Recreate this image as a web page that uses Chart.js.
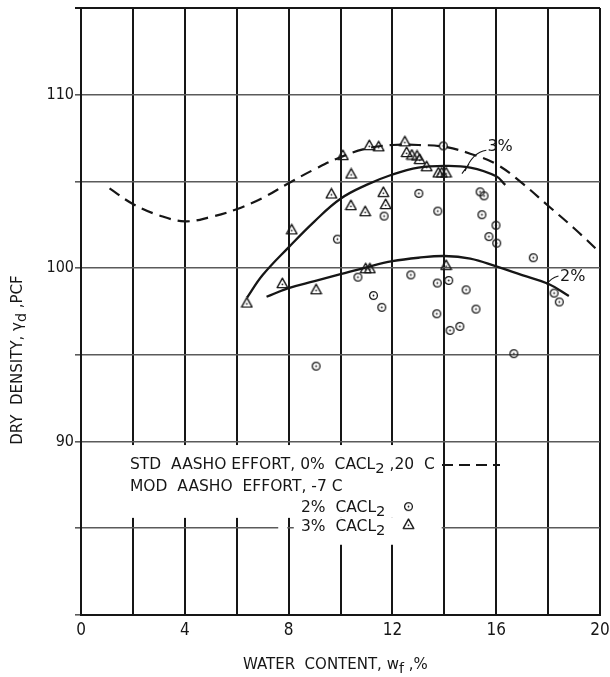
<!DOCTYPE html>
<html>
<head>
<meta charset="utf-8">
<script src="https://cdn.jsdelivr.net/npm/chart.js@4.4.0/dist/chart.umd.min.js"></script>
<style>
  html, body { margin: 0; padding: 0; background: #fff; }
  #wrap { width: 610px; height: 677px; }
</style>
</head>
<body>
<div id="wrap"><canvas id="densityChart" width="610" height="677"></canvas></div>
<script>
// Standard AASHO effort, 0% CaCl2, 20 C (dashed curve)
const stdWater = [1.1, 2, 3, 4, 5, 6, 7, 8, 9, 10, 11, 12, 13, 14, 15, 16, 17, 18, 19, 20];
const stdDensity = [104.6, 103.7, 103.05, 102.7, 102.95, 103.4, 104.05, 104.9, 105.7, 106.4, 106.9, 107.1, 107.1, 107.0, 106.6, 106.0, 104.9, 103.6, 102.3, 100.9];

// Modified AASHO effort, -7 C, 3% CaCl2 curve
const mod3Water = [6.4, 7, 8, 9, 10, 11, 12, 13, 14, 15, 16, 16.35];
const mod3Density = [98.3, 99.6, 101.2, 102.7, 104.0, 104.8, 105.4, 105.8, 105.9, 105.8, 105.3, 104.8];

// Modified AASHO effort, -7 C, 2% CaCl2 curve
const mod2Water = [7.15, 8, 9, 10, 11, 12, 13, 14, 15, 16, 17, 18, 18.8];
const mod2Density = [98.35, 98.85, 99.25, 99.65, 100.05, 100.4, 100.6, 100.7, 100.55, 100.1, 99.6, 99.1, 98.4];

// test points, 2% CaCl2
const pts2Water = [9.88, 11.68, 13.02, 13.75, 15.38, 15.53, 15.45, 15.99, 15.72, 16.02, 17.43, 13.96,
  10.67, 11.27, 11.59, 9.06, 12.71, 13.73, 14.17, 14.84, 13.71, 15.22, 14.22, 14.6, 16.68, 18.23, 18.43];
const pts2Density = [101.67, 103.0, 104.31, 103.29, 104.4, 104.17, 103.08, 102.47, 101.82, 101.44, 100.6, 107.05,
  99.48, 98.42, 97.74, 94.35, 99.61, 99.14, 99.29, 98.75, 97.37, 97.64, 96.41, 96.64, 95.07, 98.56, 98.05];

// test points, 3% CaCl2
const pts3Water = [6.39, 7.76, 9.06, 8.12, 9.65, 10.09, 10.41, 10.4, 10.95, 11.11, 11.47, 11.65, 11.74,
  12.48, 12.55, 12.75, 12.95, 13.05, 13.32, 13.77, 13.9, 14.07, 10.97, 11.13, 14.07];
const pts3Density = [98.02, 99.14, 98.79, 102.24, 104.31, 106.53, 105.46, 103.64, 103.29, 107.1, 107.03, 104.4, 103.7,
  107.32, 106.7, 106.55, 106.5, 106.3, 105.88, 105.52, 105.52, 105.52, 100.0, 100.0, 100.19];

const xTickLabels = ['0', '4', '8', '12', '16', '20'];
const yTickLabels = ['90', '100', '110'];

const FONT = "'DejaVu Sans', sans-serif";
const TICK_FONT = "'DejaVu Sans Condensed', 'DejaVu Sans', sans-serif";
const INK = '#161616';

function toPoints(xs, ys) {
  return xs.map((x, i) => ({ x: x, y: ys[i] }));
}

// small marker images: circle with centre dot, triangle with centre dot
function makeCircle() {
  const c = document.createElement('canvas');
  c.width = 11; c.height = 11;
  const g = c.getContext('2d');
  g.strokeStyle = INK; g.fillStyle = INK; g.lineWidth = 1.3;
  g.beginPath(); g.arc(5.5, 5.5, 3.9, 0, Math.PI * 2); g.stroke();
  g.beginPath(); g.arc(5.5, 5.5, 0.9, 0, Math.PI * 2); g.fill();
  return c;
}
function makeTriangle() {
  const c = document.createElement('canvas');
  c.width = 13; c.height = 12;
  const g = c.getContext('2d');
  g.strokeStyle = INK; g.fillStyle = INK; g.lineWidth = 1.4; g.lineJoin = 'round';
  g.beginPath(); g.moveTo(6.5, 1.2); g.lineTo(11.8, 10.6); g.lineTo(1.2, 10.6); g.closePath(); g.stroke();
  g.beginPath(); g.arc(6.5, 7.3, 0.9, 0, Math.PI * 2); g.fill();
  return c;
}
const circleImg = makeCircle();
const triangleImg = makeTriangle();

// text with subscripts: runs = [[text, isSub], ...]
function runsWidth(ctx, runs, size) {
  let w = 0;
  runs.forEach(r => {
    ctx.font = (r[1] ? size * 0.95 : size) + 'px ' + FONT;
    w += ctx.measureText(r[0]).width;
  });
  return w;
}
function drawRuns(ctx, runs, x, y, size, align) {
  let cx = align === 'center' ? x - runsWidth(ctx, runs, size) / 2 : x;
  ctx.textAlign = 'left';
  ctx.textBaseline = 'middle';
  runs.forEach(r => {
    ctx.font = (r[1] ? size * 0.95 : size) + 'px ' + FONT;
    ctx.fillText(r[0], cx, r[1] ? y + size * 0.3 : y);
    cx += ctx.measureText(r[0]).width;
  });
}

const notes = {
  id: 'notes',
  beforeDatasetsDraw(chart) {
    const ctx = chart.ctx;
    const xs = chart.scales.x, ys = chart.scales.y;
    const px = v => xs.getPixelForValue(v), py = v => ys.getPixelForValue(v);
    ctx.save();
    // blank panel behind the key
    ctx.fillStyle = '#fff';
    ctx.fillRect(px(0) + 1.5, py(89.8), px(13.9) - px(0) - 1.5, py(85.6) - py(89.8));
    ctx.fillRect(px(8.2), py(85.6), px(13.9) - px(8.2), py(84.05) - py(85.6));
    ctx.fillRect(px(7.6), py(85.2), px(7.95) - px(7.6), py(84.8) - py(85.2));

    ctx.fillStyle = INK;
    const s = 15.5;
    drawRuns(ctx, [['STD  AASHO EFFORT, 0%  CACL', false], ['2', true], [' ,20  C', false]], 130, py(88.65), s, 'left');
    drawRuns(ctx, [['MOD  AASHO  EFFORT, -7 C', false]], 130, py(87.4), s, 'left');
    drawRuns(ctx, [['2%  CACL', false], ['2', true]], 301, py(86.2), s, 'left');
    drawRuns(ctx, [['3%  CACL', false], ['2', true]], 301, py(85.1), s, 'left');

    ctx.strokeStyle = INK;
    ctx.lineWidth = 1.8;
    ctx.setLineDash([11, 6]);
    ctx.beginPath();
    ctx.moveTo(442, py(88.65));
    ctx.lineTo(500, py(88.65));
    ctx.stroke();
    ctx.setLineDash([]);
    ctx.drawImage(circleImg, 403, py(86.25) - 5.5);
    ctx.drawImage(triangleImg, 402, py(85.2) - 7);

    // curve labels with leaders
    drawRuns(ctx, [['3%', false]], px(16.15), py(107.0), 16, 'center');
    drawRuns(ctx, [['2%', false]], px(18.95), py(99.5), 16, 'center');
    ctx.lineWidth = 1.1;
    ctx.beginPath();
    ctx.moveTo(px(15.62), py(106.8));
    ctx.quadraticCurveTo(px(15.1), py(106.7), px(14.8), py(105.6));
    ctx.moveTo(px(14.68), py(105.45));
    ctx.lineTo(px(14.95), py(106.0));
    ctx.moveTo(px(18.4), py(99.55));
    ctx.quadraticCurveTo(px(18.1), py(99.45), px(17.95), py(99.05));
    ctx.stroke();

    // axis titles
    drawRuns(ctx, [['WATER  CONTENT, w', false], ['f', true], [' ,%', false]], px(9.8), 665, 15, 'center');
    ctx.translate(18, 360);
    ctx.rotate(-Math.PI / 2);
    drawRuns(ctx, [['DRY  DENSITY, \u03B3', false], ['d', true], [' ,PCF', false]], 0, 0, 15, 'center');
    ctx.restore();
  }
};

const lineStyle = {
  showLine: true,
  pointRadius: 0,
  borderColor: INK,
  borderWidth: 2.3,
  tension: 0.4,
  fill: false
};

new Chart(document.getElementById('densityChart'), {
  type: 'scatter',
  data: {
    datasets: [
      Object.assign({ label: 'STD AASHO 0%', data: toPoints(stdWater, stdDensity) }, lineStyle, { borderWidth: 2.2, borderDash: [12, 7] }),
      Object.assign({ label: 'MOD 3%', data: toPoints(mod3Water, mod3Density) }, lineStyle),
      Object.assign({ label: 'MOD 2%', data: toPoints(mod2Water, mod2Density) }, lineStyle),
      { label: '2% CACL2', data: toPoints(pts2Water, pts2Density), pointStyle: circleImg, pointRadius: 5 },
      { label: '3% CACL2', data: toPoints(pts3Water, pts3Density), pointStyle: triangleImg, pointRadius: 6 }
    ]
  },
  options: {
    responsive: false,
    animation: false,
    layout: { padding: { top: 8, right: 10, left: 0, bottom: 0 } },
    plugins: { legend: { display: false }, tooltip: { enabled: false } },
    scales: {
      x: {
        type: 'linear', min: 0, max: 20,
        afterFit(scale) { scale.height = 62; scale.paddingLeft = 0; scale.paddingRight = 0; },
        border: { color: INK, width: 2 },
        grid: { color: INK, lineWidth: 2, drawTicks: false },
        ticks: {
          stepSize: 2, padding: 5, color: INK,
          font: { family: TICK_FONT, size: 17 },
          callback: v => (v % 4 === 0 ? xTickLabels[v / 4] : '')
        }
      },
      y: {
        type: 'linear', min: 80, max: 115,
        afterFit(scale) { scale.width = 81; scale.paddingTop = 0; scale.paddingBottom = 0; },
        border: { color: INK, width: 2 },
        grid: {
          color: c => (c.tick && c.tick.value === 115 ? INK : '#5a5a5a'),
          lineWidth: c => (c.tick && c.tick.value === 115 ? 2 : 1.6),
          tickLength: 6
        },
        ticks: {
          stepSize: 5, padding: 1, color: INK,
          font: { family: TICK_FONT, size: 16 },
          callback: v => (v % 10 === 0 && v >= 90 && v <= 110 ? yTickLabels[(v - 90) / 10] : '')
        }
      }
    }
  },
  plugins: [notes]
});
</script>
</body>
</html>
